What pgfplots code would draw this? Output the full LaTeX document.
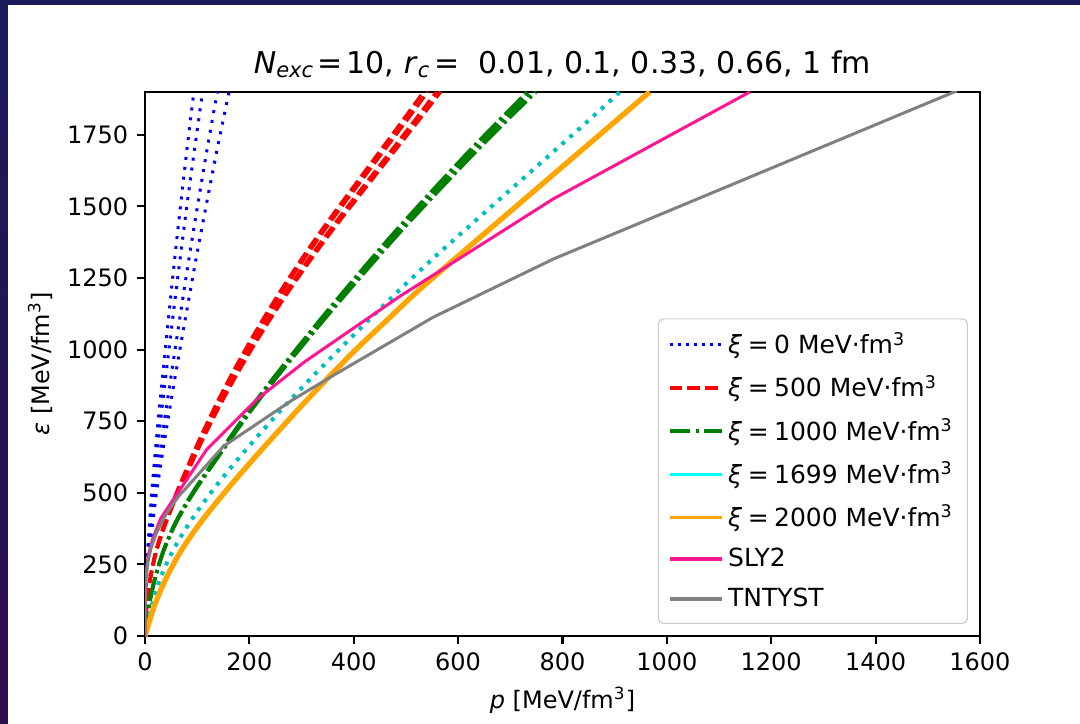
\documentclass[border=0pt]{standalone}
\usepackage{fontspec}
\setmainfont{DejaVu Sans}
\usepackage{pgfplots}
\pgfplotsset{compat=1.18}

\definecolor{navy}{RGB}{26,26,90}
\definecolor{purp}{RGB}{45,15,75}
\definecolor{mplc}{RGB}{0,191,191}
\definecolor{legcyan}{RGB}{0,255,255}
\definecolor{mplgreen}{RGB}{0,128,0}
\definecolor{mplorange}{RGB}{255,165,0}
\definecolor{mplpink}{RGB}{255,20,147}
\definecolor{mplgray}{RGB}{128,128,128}
\definecolor{leggray}{RGB}{204,204,204}

\newcommand{\unit}{MeV·fm\textsuperscript{3}}
\newcommand{\xientry}[1]{\textit{ξ}\kern2.3bp=\kern2.3bp#1 \unit}

\begin{document}
\begin{tikzpicture}
% page = 1080 x 723 px at 0.41667 bp/px, axis box at px (145..980, 92..636)
\path[use as bounding box] (-60.42bp,-36.25bp) rectangle (389.58bp,265bp);
\fill[white] (-60.42bp,-36.25bp) rectangle (389.58bp,265bp);
\fill[navy] (-60.42bp,262.9bp) rectangle (389.58bp,265bp);
\fill[top color=navy, bottom color=purp] (-60.42bp,-36.25bp) rectangle (-57.1bp,265bp);

\begin{axis}[
    at={(0,0)}, anchor=south west,
    width=347.9bp, height=226.7bp, scale only axis,
    xmin=0, xmax=1600, ymin=0, ymax=1900,
    xtick={0,200,...,1600}, ytick={0,250,...,1750},
    tick pos=left, tick align=outside, major tick length=3.5bp,
    axis line style={line width=0.85bp},
    tick style={line width=0.85bp, black},
    /pgf/number format/assume math mode=true,
    /pgf/number format/set thousands separator={},
    ticklabel style={font=\fontsize{10bp}{12bp}\selectfont},
    title={\textit{N}\textsubscript{\textit{exc}}\kern1.5bp=\kern1.5bp10, \textit{r}\textsubscript{\textit{c}}\kern1.5bp=~ 0.01, 0.1, 0.33, 0.66, 1 fm},
    title style={font=\fontsize{12.5bp}{15bp}\selectfont, at={(axis description cs:0.5,1)}, anchor=base, yshift=1.8bp},
    xlabel={\textit{p} [MeV/fm\textsuperscript{3}]},
    ylabel={\textit{ε} [MeV/fm\textsuperscript{3}]},
    label style={font=\fontsize{10bp}{12bp}\selectfont},
    xlabel style={at={(axis description cs:0.5,-0.1176)}, anchor=center},
    ylabel style={at={(axis description cs:-0.1257,0.5)}, anchor=center},
    legend style={at={(axis description cs:1,0)}, anchor=south east, xshift=-5bp, yshift=5bp,
        draw=leggray, line width=0.5bp, rounded corners=2bp, fill=white,
        font=\fontsize{10.4bp}{12.5bp}\selectfont, row sep=3.5bp, inner xsep=4bp, inner ysep=3.5bp},
    legend cell align=left,
    legend image code/.code={\draw[#1] (0bp,0bp) -- (21.7bp,0bp);},
]

% xi = 0, five r_c (two coincide)
\addplot[blue, line width=1.25bp, dash pattern=on 1.25bp off 2.9bp, smooth, forget plot] coordinates {
 (0,0) (0.3,100) (1,160) (3,250) (7,350) (12.8,500) (22.6,700) (33.3,900) (44.5,1100) (55.9,1300) (67.9,1500) (80.4,1700) (93.6,1900)};
\addplot[blue, line width=1.25bp, dash pattern=on 1.25bp off 2.9bp, smooth, forget plot] coordinates {
 (0,0) (0.35,100) (1.2,160) (3.5,250) (8.3,350) (15.1,500) (26.7,700) (39.3,900) (52.5,1100) (66,1300) (80.1,1500) (94.9,1700) (110.4,1900)};
\addplot[blue, line width=1.25bp, dash pattern=on 1.25bp off 2.9bp, smooth, forget plot] coordinates {
 (0,0) (0.44,100) (1.5,160) (4.4,250) (10.4,350) (18.9,500) (33.4,700) (49.3,900) (65.9,1100) (82.7,1300) (100.5,1500) (119,1700) (138.5,1900)};
\addplot[blue, line width=1.25bp, dash pattern=on 1.25bp off 2.9bp, smooth, forget plot] coordinates {
 (0,0) (0.5,100) (1.7,160) (5.2,250) (12,350) (22,500) (38.9,700) (57.3,900) (76.5,1100) (96.1,1300) (116.8,1500) (138.3,1700) (161,1900)};

% xi = 500
\addplot[red, line width=1.4bp, dash pattern=on 5.2bp off 2.2bp, smooth, forget plot] coordinates {
 (0,0) (2.9,100) (9.7,200) (21.3,300) (38.8,400) (60.1,500) (83.4,600) (107.7,700) (133.9,800) (162,900) (192.1,1000) (224.1,1100) (258,1200) (293.9,1300) (331.7,1400) (371.5,1500) (412.3,1600) (453,1700) (493.7,1800) (533.5,1900)};
\addplot[red, line width=1.4bp, dash pattern=on 5.2bp off 2.2bp, smooth, forget plot] coordinates {
 (0,0) (3,100) (9.9,200) (21.7,300) (39.4,400) (61.1,500) (84.7,600) (109.3,700) (135.9,800) (164.5,900) (195,1000) (227.5,1100) (262,1200) (298.5,1300) (336.9,1400) (377.3,1500) (418.6,1600) (460,1700) (501.4,1800) (541.8,1900)};
\addplot[red, line width=1.4bp, dash pattern=on 5.2bp off 2.2bp, smooth, forget plot] coordinates {
 (0,0) (3,100) (10.2,200) (22.3,300) (40.6,400) (62.9,500) (87.3,600) (112.7,700) (140.1,800) (169.5,900) (201,1000) (234.5,1100) (270,1200) (307.5,1300) (347.1,1400) (388.7,1500) (431.4,1600) (474,1700) (516.6,1800) (558.3,1900)};
\addplot[red, line width=1.4bp, dash pattern=on 5.2bp off 2.2bp, smooth, forget plot] coordinates {
 (0,0) (3.1,100) (10.3,200) (22.7,300) (41.2,400) (63.9,500) (88.6,600) (114.3,700) (142.1,800) (172,900) (203.9,1000) (237.9,1100) (274,1200) (312.1,1300) (352.3,1400) (394.5,1500) (437.8,1600) (481,1700) (524.3,1800) (566.5,1900)};

% xi = 1000
\addplot[mplgreen, line width=1.5bp, dash pattern=on 10bp off 1.8bp on 1.3bp off 1.8bp, smooth, forget plot] coordinates {
 (0,0) (6.9,100) (18.8,200) (35.6,300) (59.4,400) (91.1,500) (127.7,600) (165.3,700) (203.9,800) (245.5,900) (289.1,1000) (333.6,1100) (379.2,1200) (425.7,1300) (473.2,1400) (522.7,1500) (573.2,1600) (624.7,1700) (678.2,1800) (732.6,1900)};
\addplot[mplgreen, line width=1.5bp, dash pattern=on 10bp off 1.8bp on 1.3bp off 1.8bp, smooth, forget plot] coordinates {
 (0,0) (7,100) (19,200) (36,300) (60,400) (92,500) (129,600) (167,700) (206,800) (248,900) (292,1000) (337,1100) (383,1200) (430,1300) (478,1400) (528,1500) (579,1600) (631,1700) (685,1800) (740,1900)};
\addplot[mplgreen, line width=1.5bp, dash pattern=on 10bp off 1.8bp on 1.3bp off 1.8bp, smooth, forget plot] coordinates {
 (0,0) (7.1,100) (19.2,200) (36.4,300) (60.7,400) (93.1,500) (130.5,600) (169,700) (208.5,800) (251,900) (295.5,1000) (341,1100) (387.6,1200) (435.2,1300) (483.7,1400) (534.3,1500) (585.9,1600) (638.6,1700) (693.2,1800) (748.9,1900)};

% xi = 1699
\addplot[mplc, line width=1.7bp, dash pattern=on 1.6bp off 2.8bp, smooth, forget plot] coordinates {
 (0,0) (12,100) (29,200) (54,300) (87,400) (126,500) (170,600) (217,700) (266,800) (318,900) (372,1000) (427,1100) (483,1200) (541,1300) (602,1400) (664,1500) (726,1600) (788,1700) (850,1800) (910,1900)};

% xi = 2000
\addplot[mplorange, line width=2.2bp, smooth, forget plot] coordinates {
 (0,0) (17,100) (40,200) (70,300) (108,400) (152,500) (199,600) (248,700) (298,800) (350,900) (404,1000) (462,1100) (520,1200) (583,1300) (647,1400) (711,1500) (775,1600) (839,1700) (903,1800) (967,1900)};

% SLY2
\addplot[mplpink, line width=1.25bp, forget plot] coordinates {
 (0,0) (0.5,120) (2,210) (6,280) (15,340) (30,410) (54,476) (80,546) (118,651) (214,826) (307,959) (489,1187) (782,1526) (1159,1900)};

% TNTYST
\addplot[mplgray, line width=1.25bp, forget plot] coordinates {
 (0,0) (0.5,120) (2,200) (5,255) (12,310) (22,360) (40,425) (64,487) (100,560) (150,662) (284,826) (374,924) (552,1113) (782,1316) (1556,1904)};

\addlegendimage{blue, line width=1.25bp, dash pattern=on 1.25bp off 2.1bp}
\addlegendentry{\xientry{0}}
\addlegendimage{red, line width=1.4bp, dash pattern=on 5.2bp off 2.2bp}
\addlegendentry{\xientry{500}}
\addlegendimage{mplgreen, line width=1.4bp, dash pattern=on 8.6bp off 2.2bp on 1.4bp off 2.2bp}
\addlegendentry{\xientry{1000}}
\addlegendimage{legcyan, line width=1.4bp}
\addlegendentry{\xientry{1699}}
\addlegendimage{mplorange, line width=1.4bp}
\addlegendentry{\xientry{2000}}
\addlegendimage{mplpink, line width=1.4bp}
\addlegendentry{SLY2}
\addlegendimage{mplgray, line width=1.4bp}
\addlegendentry{TNTYST}
\end{axis}
\end{tikzpicture}
\end{document}
